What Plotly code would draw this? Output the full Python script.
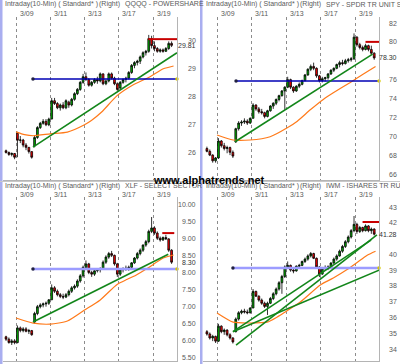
import plotly.graph_objects as go

W, H = 400, 364

# ---------------- time axis ----------------
day_names = ["3/06", "3/09", "3/10", "3/11", "3/12", "3/13", "3/16", "3/17", "3/18", "3/19", "3/20"]
bars_in_day = [4, 6, 6, 6, 6, 6, 6, 6, 6, 6, 1]
labelled_days = ["3/09", "3/11", "3/13", "3/17", "3/19"]
BARS_PER_SESSION = 6

# ---------------- QQQQ ----------------
qqqq_open = [26.08, 26.02, 25.95, 25.98,
             26.7, 26.45, 26.46, 26.28, 26.2, 26.05,
             26.25, 26.55, 26.9, 27.05, 27.12, 27.0,
             27.2, 27.85, 27.75, 27.6, 27.7, 27.6,
             27.8, 27.7, 27.9, 28.1, 28.25, 28.5,
             28.7, 28.6, 28.4, 28.5, 28.6, 28.55,
             28.8, 28.45, 28.55, 28.8, 28.65, 28.45,
             28.3, 28.5, 28.6, 28.65, 28.85, 29.1,
             29.2, 29.25, 29.4, 29.55, 29.6, 30.05,
             29.8, 29.7, 29.6, 29.65, 29.6, 29.7,
             29.88]
qqqq_high = [26.12, 26.05, 26.02, 26.0,
             26.75, 26.6, 26.5, 26.35, 26.2, 26.05,
             26.62, 26.95, 27.1, 27.2, 27.2, 27.25,
             27.95, 27.95, 27.8, 27.75, 27.8, 27.9,
             27.85, 27.95, 28.15, 28.3, 28.55, 28.8,
             28.85, 28.65, 28.55, 28.65, 28.7, 28.85,
             28.82, 28.6, 28.85, 28.85, 28.7, 28.5,
             28.55, 28.65, 28.7, 28.9, 29.15, 29.25,
             29.3, 29.45, 29.6, 29.65, 30.18, 30.15,
             29.95, 29.75, 29.7, 29.7, 29.75, 29.95,
             29.95]
qqqq_low = [25.98, 25.9, 25.88, 25.78,
            25.85, 26.35, 26.2, 26.1, 25.98, 25.8,
            26.2, 26.5, 26.85, 27.0, 26.95, 26.95,
            27.2, 27.7, 27.55, 27.5, 27.55, 27.55,
            27.6, 27.65, 27.85, 28.05, 28.2, 28.45,
            28.55, 28.35, 28.35, 28.45, 28.45, 28.5,
            28.4, 28.4, 28.5, 28.6, 28.4, 28.2,
            28.25, 28.45, 28.5, 28.6, 28.8, 29.0,
            29.1, 29.15, 29.35, 29.45, 29.55, 29.7,
            29.6, 29.55, 29.55, 29.55, 29.58, 29.65,
            29.75]
qqqq_close = [26.02, 25.95, 25.98, 25.85,
              26.45, 26.46, 26.28, 26.2, 26.05, 25.85,
              26.55, 26.9, 27.05, 27.12, 27.0, 27.2,
              27.85, 27.75, 27.6, 27.7, 27.6, 27.85,
              27.7, 27.9, 28.1, 28.25, 28.5, 28.7,
              28.6, 28.4, 28.5, 28.6, 28.55, 28.8,
              28.45, 28.55, 28.8, 28.65, 28.45, 28.25,
              28.5, 28.6, 28.65, 28.85, 29.1, 29.2,
              29.25, 29.4, 29.55, 29.6, 30.05, 29.8,
              29.7, 29.6, 29.65, 29.6, 29.7, 29.88,
              29.81]
qqqq_ma_x = [0, 0.5, 1, 2, 3, 4, 4.4, 5, 5.9, 6.8, 7.8, 8.6, 9.2]
qqqq_ma_y = [26.75, 26.65, 26.61, 26.68, 26.74, 27.0, 27.15, 27.45, 28.03, 28.4, 28.69, 28.98, 29.08]
qqqq_trend_x = [[0.99, 9.4]]
qqqq_trend_y = [[26.21, 29.55]]
qqqq_support = 28.62
qqqq_support_x = [0.99, 9.4]
qqqq_resist = 30.03
qqqq_resist_x = [7.72, 9.45]
qqqq_ticks = [26, 27, 28, 29, 30]
qqqq_last = 29.81

# ---------------- SPY ----------------
spy_open = [68.7, 68.4, 68.0, 67.4,
            67.7, 69.5, 69.0, 68.7, 68.8, 68.3,
            69.4, 70.8, 71.4, 71.5, 71.6, 71.4,
            71.9, 73.3, 72.9, 72.6, 72.5, 72.1,
            72.7, 73.2, 73.5, 73.9, 74.3, 74.8,
            75.2, 76.0, 75.2, 74.8, 75.3, 75.5,
            75.9, 76.5, 77.1, 77.4, 77.2, 76.4,
            75.9, 76.1, 76.2, 76.6, 77.0, 77.2,
            77.6, 77.8, 77.7, 78.0, 78.1, 78.2,
            80.5, 79.7, 79.4, 79.2, 79.6, 79.2,
            78.8]
spy_high = [68.9, 68.6, 68.1, 67.8,
            69.8, 69.6, 69.3, 69.0, 68.9, 68.5,
            70.9, 71.6, 71.7, 71.9, 71.8, 72.0,
            73.5, 73.4, 73.1, 72.9, 72.6, 72.8,
            73.3, 73.6, 74.0, 74.4, 74.9, 75.3,
            76.3, 76.1, 75.3, 75.4, 75.7, 76.0,
            76.6, 77.2, 77.6, 77.8, 77.3, 76.5,
            76.3, 76.3, 76.7, 77.1, 77.3, 77.7,
            78.0, 78.1, 78.2, 78.3, 78.4, 80.9,
            80.6, 79.9, 79.6, 79.8, 79.7, 79.6,
            78.9]
spy_low = [68.3, 67.9, 67.2, 67.2,
           67.6, 68.8, 68.5, 68.2, 68.0, 67.7,
           69.3, 70.6, 71.1, 71.3, 71.2, 71.3,
           71.9, 72.7, 72.4, 72.3, 71.9, 72.0,
           72.6, 72.9, 73.3, 73.7, 74.2, 72.8,
           75.1, 75.0, 74.6, 74.7, 75.1, 75.4,
           75.8, 76.4, 76.9, 77.0, 76.2, 75.7,
           75.7, 75.8, 76.0, 76.5, 76.8, 77.1,
           77.3, 77.5, 77.6, 77.8, 77.9, 78.1,
           79.5, 79.2, 79.0, 79.1, 79.0, 78.6,
           78.1]
spy_close = [68.4, 68.0, 67.4, 67.7,
             69.5, 69.0, 68.7, 68.8, 68.3, 67.9,
             70.8, 71.4, 71.5, 71.6, 71.4, 71.9,
             73.3, 72.9, 72.6, 72.5, 72.1, 72.7,
             73.2, 73.5, 73.9, 74.3, 74.8, 75.2,
             76.0, 75.2, 74.8, 75.3, 75.5, 75.9,
             76.5, 77.1, 77.4, 77.2, 76.4, 75.9,
             76.1, 76.2, 76.6, 77.0, 77.2, 77.6,
             77.8, 77.7, 78.0, 78.1, 78.2, 80.5,
             79.7, 79.4, 79.2, 79.6, 79.2, 78.8,
             78.3]
spy_ma_x = [0, 0.93, 1.91, 3.07, 4.06, 4.64, 5.39, 6.14, 6.72, 7.7, 8.46, 9.16]
spy_ma_y = [70.13, 69.6, 69.6, 69.95, 70.9, 71.6, 72.8, 73.9, 74.6, 75.7, 76.6, 77.4]
spy_trend_x = [[1.04, 8.99]]
spy_trend_y = [[69.42, 78.7]]
spy_support = 75.86
spy_support_x = [1.1, 9.36]
spy_resist = 80.0
spy_resist_x = [8.58, 9.45]
spy_ticks = [66, 68, 70, 72, 74, 76, 80, 82]
spy_last = 78.30

# ---------------- XLF ----------------
xlf_open = [6.12, 6.05, 5.95, 6.0,
            5.95, 6.38, 6.3, 6.35, 6.28, 6.3,
            6.55, 6.8, 7.0, 7.05, 7.08, 7.1,
            7.2, 7.55, 7.45, 7.35, 7.3, 7.28,
            7.35, 7.45, 7.55, 7.6, 7.75, 7.9,
            8.15, 8.25, 8.0, 7.95, 8.05, 8.08,
            8.1, 8.3, 8.45, 8.55, 8.5, 8.25,
            7.95, 8.08, 8.1, 8.12, 8.15, 8.28,
            8.42, 8.55, 8.65, 8.8, 8.9, 9.2,
            9.3, 9.15, 9.0, 8.95, 9.02, 8.98,
            8.65]
xlf_high = [6.15, 6.1, 6.05, 6.05,
            6.45, 6.42, 6.4, 6.4, 6.35, 6.32,
            6.85, 7.05, 7.1, 7.12, 7.15, 7.22,
            7.65, 7.6, 7.5, 7.4, 7.38, 7.4,
            7.5, 7.6, 7.65, 7.8, 7.95, 8.2,
            8.35, 8.28, 8.05, 8.1, 8.12, 8.15,
            8.35, 8.5, 8.6, 8.63, 8.52, 8.28,
            8.12, 8.15, 8.2, 8.2, 8.3, 8.45,
            8.6, 8.7, 8.82, 8.95, 9.25, 9.62,
            9.35, 9.2, 9.05, 9.05, 9.1, 9.0,
            8.68]
xlf_low = [6.0, 5.92, 5.88, 5.9,
           5.93, 6.25, 6.25, 6.25, 6.2, 6.15,
           6.5, 6.75, 6.95, 6.98, 7.0, 7.05,
           7.2, 7.4, 7.3, 7.25, 7.22, 7.25,
           7.3, 7.4, 7.5, 7.55, 7.7, 7.85,
           8.1, 7.95, 7.87, 7.9, 8.0, 8.0,
           8.08, 8.25, 8.4, 8.45, 8.2, 7.87,
           7.9, 8.0, 8.05, 8.05, 8.1, 8.25,
           8.38, 8.5, 8.6, 8.75, 8.85, 9.15,
           9.1, 8.95, 8.9, 8.92, 8.95, 8.6,
           8.25]
xlf_close = [6.05, 5.95, 6.0, 5.95,
             6.38, 6.3, 6.35, 6.28, 6.3, 6.18,
             6.8, 7.0, 7.05, 7.08, 7.1, 7.2,
             7.55, 7.45, 7.35, 7.3, 7.28, 7.35,
             7.45, 7.55, 7.6, 7.75, 7.9, 8.15,
             8.25, 8.0, 7.95, 8.05, 8.08, 8.1,
             8.3, 8.45, 8.55, 8.5, 8.25, 7.95,
             8.08, 8.1, 8.12, 8.15, 8.28, 8.42,
             8.55, 8.65, 8.8, 8.9, 9.2, 9.3,
             9.15, 9.0, 8.95, 9.02, 8.98, 8.65,
             8.3]
xlf_ma_x = [0, 1, 2, 3, 4, 4.9, 5.9, 6.5, 7.0, 7.7, 8.6, 9.2]
xlf_ma_y = [6.67, 6.52, 6.49, 6.58, 6.9, 7.19, 7.65, 7.8, 7.92, 8.13, 8.42, 8.51]
xlf_trend_x = [[0.99, 8.89]]
xlf_trend_y = [[6.55, 8.53]]
xlf_support = 8.10
xlf_support_x = [0.99, 9.4]
xlf_resist = 9.15
xlf_resist_x = [8.54, 9.24]
xlf_ticks = [5.5, 6.0, 6.5, 7.0, 7.5, 8.0, 8.5, 9.0, 9.5, 10.0]
xlf_last = 8.30

# ---------------- IWM ----------------
iwm_open = [35.1, 34.95, 34.7, 34.8,
            34.5, 35.45, 35.1, 35.2, 34.9, 34.7,
            35.1, 35.9, 36.3, 36.4, 36.35, 36.3,
            36.6, 37.65, 37.35, 37.1, 36.9, 36.7,
            36.9, 37.2, 37.5, 37.8, 38.2, 38.6,
            39.2, 39.3, 39.0, 38.95, 39.25, 39.3,
            39.55, 39.7, 39.9, 40.05, 39.75, 39.2,
            38.75, 39.1, 39.15, 39.2, 39.45, 39.7,
            39.9, 40.2, 40.5, 40.8, 41.1, 41.5,
            41.9, 41.45, 41.7, 41.5, 41.8, 41.5,
            41.6]
iwm_high = [35.2, 35.05, 34.9, 34.85,
            35.6, 35.5, 35.3, 35.25, 35.0, 34.75,
            36.0, 36.4, 36.5, 36.55, 36.5, 36.65,
            37.8, 37.7, 37.4, 37.2, 37.0, 37.0,
            37.3, 37.6, 37.9, 38.3, 38.7, 39.3,
            39.55, 39.35, 39.1, 39.3, 39.4, 39.6,
            39.8, 40.0, 40.15, 40.1, 39.8, 39.25,
            39.2, 39.3, 39.3, 39.5, 39.8, 40.0,
            40.3, 40.6, 40.9, 41.2, 41.6, 42.43,
            42.0, 41.8, 41.75, 41.9, 41.85, 41.7,
            41.65]
iwm_low = [34.85, 34.6, 34.5, 34.38,
           34.45, 35.0, 34.9, 34.8, 34.6, 34.35,
           35.05, 35.8, 36.2, 36.25, 36.2, 36.25,
           36.6, 37.3, 37.0, 36.8, 36.6, 36.16,
           36.85, 37.1, 37.4, 37.7, 37.5, 38.5,
           39.1, 38.9, 38.8, 38.9, 39.15, 39.25,
           39.45, 39.6, 39.8, 39.7, 39.1, 38.56,
           38.7, 38.95, 39.0, 39.1, 39.4, 39.6,
           39.85, 40.1, 40.4, 40.7, 41.0, 41.4,
           41.3, 41.35, 41.4, 41.45, 41.4, 41.3,
           41.2]
iwm_close = [34.95, 34.7, 34.8, 34.5,
             35.45, 35.1, 35.2, 34.9, 34.7, 34.45,
             35.9, 36.3, 36.4, 36.35, 36.3, 36.6,
             37.65, 37.35, 37.1, 36.9, 36.7, 36.9,
             37.2, 37.5, 37.8, 38.2, 38.6, 39.2,
             39.3, 39.0, 38.95, 39.25, 39.3, 39.55,
             39.7, 39.9, 40.05, 39.75, 39.2, 38.75,
             39.1, 39.15, 39.2, 39.45, 39.7, 39.9,
             40.2, 40.5, 40.8, 41.1, 41.5, 41.9,
             41.45, 41.7, 41.5, 41.8, 41.5, 41.6,
             41.28]
iwm_ma_x = [0, 0.93, 1.91, 2.9, 3.48, 3.94, 4.81, 5.97, 6.72, 7.54, 8.29, 8.7, 9.16]
iwm_ma_y = [36.28, 35.7, 35.65, 35.7, 36.03, 36.35, 36.98, 38.06, 38.5, 39.05, 39.64, 39.96, 40.2]
iwm_trend_x = [[1.1, 9.24], [0.92, 8.9], [0.92, 9.36]]
iwm_trend_y = [[34.25, 41.23], [35.1, 40.9], [35.1, 39.0]]
iwm_support = 39.14
iwm_support_x = [0.92, 9.36]
iwm_resist = 42.05
iwm_resist_x = [8.41, 9.45]
iwm_ticks = [34, 35, 36, 37, 38, 39, 40, 42, 43]
iwm_last = 41.28

# ---------------- build bar positions (session units, 3/09 = 0) ----------------
bar_x = []
for d, n in enumerate(bars_in_day):
    session = d - 1
    start = BARS_PER_SESSION - n if d == 0 else 0
    for k in range(start, start + n):
        bar_x.append(session + (k + 0.5) / BARS_PER_SESSION)
grid_sessions = [day_names.index(dn) - 1 for dn in labelled_days]

TEXT = "#5a5a5a"
FONT = "Liberation Sans, Arial, sans-serif"

panels = [
    dict(sym="QQQQ - POWERSHARE", o=qqqq_open, h=qqqq_high, l=qqqq_low, c=qqqq_close,
         ma=(qqqq_ma_x, qqqq_ma_y), tr=(qqqq_trend_x, qqqq_trend_y),
         sup=(qqqq_support, qqqq_support_x), res=(qqqq_resist, qqqq_resist_x),
         ticks=qqqq_ticks, fmt="{:.0f}", last=qqqq_last,
         px=(3, 177), py=(17, 180), xr=(-0.76, 9.40), yr=(25.044, 30.814),
         top=0, left=0, supcol="#0000b4", supw=1.5),
    dict(sym="SPY - SPDR TR UNIT SE", o=spy_open, h=spy_high, l=spy_low, c=spy_close,
         ma=(spy_ma_x, spy_ma_y), tr=(spy_trend_x, spy_trend_y),
         sup=(spy_support, spy_support_x), res=(spy_resist, spy_resist_x),
         ticks=spy_ticks, fmt="{:.0f}", last=spy_last,
         px=(203, 379), py=(17, 180), xr=(-0.81, 9.36), yr=(65.364, 82.636),
         top=0, left=201, supcol="#0000b4", supw=1.5),
    dict(sym="XLF - SELECT SECTOR", o=xlf_open, h=xlf_high, l=xlf_low, c=xlf_close,
         ma=(xlf_ma_x, xlf_ma_y), tr=(xlf_trend_x, xlf_trend_y),
         sup=(xlf_support, xlf_support_x), res=(xlf_resist, xlf_resist_x),
         ticks=xlf_ticks, fmt="{:.2f}", last=xlf_last,
         px=(3, 177), py=(197, 361), xr=(-0.76, 9.40), yr=(5.412, 10.2046),
         top=181, left=0, supcol="#9c9cff", supw=2.5),
    dict(sym="IWM - ISHARES TR RUS", o=iwm_open, h=iwm_high, l=iwm_low, c=iwm_close,
         ma=(iwm_ma_x, iwm_ma_y), tr=(iwm_trend_x, iwm_trend_y),
         sup=(iwm_support, iwm_support_x), res=(iwm_resist, iwm_resist_x),
         ticks=iwm_ticks, fmt="{:.0f}", last=iwm_last,
         px=(203, 379), py=(197, 361), xr=(-0.81, 9.36), yr=(33.241, 43.634),
         top=181, left=201, supcol="#9c9cff", supw=2.5),
]

fig = go.Figure()
annotations = []
shapes = []
layout_axes = {}

for i, p in enumerate(panels, start=1):
    xa = "x" if i == 1 else f"x{i}"
    ya = "y" if i == 1 else f"y{i}"
    xkey = "xaxis" if i == 1 else f"xaxis{i}"
    ykey = "yaxis" if i == 1 else f"yaxis{i}"

    # moving average
    fig.add_trace(go.Scatter(x=p["ma"][0], y=p["ma"][1], mode="lines", xaxis=xa, yaxis=ya,
                             line=dict(color="#ff7a1a", width=1.2, shape="spline", smoothing=0.6),
                             showlegend=False, hoverinfo="skip"))
    # support line with end handles
    sup_v, sup_x = p["sup"]
    fig.add_trace(go.Scatter(x=sup_x, y=[sup_v, sup_v], mode="lines+markers", xaxis=xa, yaxis=ya,
                             line=dict(color=p["supcol"], width=p["supw"]),
                             marker=dict(size=3.5, color=["#202040", "#d8c800"],
                                         line=dict(width=0)),
                             cliponaxis=False, showlegend=False, hoverinfo="skip"))
    # trend lines
    for tx, ty in zip(*p["tr"]):
        fig.add_trace(go.Scatter(x=tx, y=ty, mode="lines", xaxis=xa, yaxis=ya,
                                 line=dict(color="#12861a", width=1.6),
                                 showlegend=False, hoverinfo="skip"))
    # candles
    fig.add_trace(go.Candlestick(x=bar_x, open=p["o"], high=p["h"], low=p["l"], close=p["c"],
                                 xaxis=xa, yaxis=ya, whiskerwidth=0,
                                 increasing=dict(fillcolor="#00b400", line=dict(color="#000000", width=0.8)),
                                 decreasing=dict(fillcolor="#ff0000", line=dict(color="#000000", width=0.8)),
                                 showlegend=False, hoverinfo="skip"))
    # resistance line
    res_v, res_x = p["res"]
    fig.add_trace(go.Scatter(x=res_x, y=[res_v, res_v], mode="lines", xaxis=xa, yaxis=ya,
                             line=dict(color="#c80000", width=2),
                             showlegend=False, hoverinfo="skip"))

    layout_axes[xkey] = dict(domain=[p["px"][0] / W, p["px"][1] / W], range=list(p["xr"]),
                             anchor=ya, tickvals=grid_sessions, showticklabels=False, ticks="",
                             showgrid=True, gridcolor="#8c8c8c", griddash="3px,3px", gridwidth=1,
                             zeroline=False, showline=True, linecolor="#b4b4b4", linewidth=1,
                             rangeslider=dict(visible=False), fixedrange=True)
    layout_axes[ykey] = dict(domain=[1 - p["py"][1] / H, 1 - p["py"][0] / H], range=list(p["yr"]),
                             anchor=xa, side="right", showgrid=False, showticklabels=False, ticks="",
                             zeroline=False, showline=True, linecolor="#b4b4b4", linewidth=1,
                             fixedrange=True)

    # title row
    top = p["top"]
    left = p["left"]
    for txt, xx in [("Intraday(10-Min) ( Standard* )", 3), ("(Right)", 97), (p["sym"], 123)]:
        annotations.append(dict(text=txt, xref="paper", yref="paper", x=(left + xx) / W,
                                y=1 - (top + 4.5) / H, xanchor="left", yanchor="middle",
                                showarrow=False, font=dict(family=FONT, size=7, color=TEXT)))
    # date labels
    for dn, gs in zip(labelled_days, grid_sessions):
        annotations.append(dict(text=dn, xref=xa, yref="paper", x=gs, xshift=1.5,
                                y=1 - (top + 13.5) / H, xanchor="left", yanchor="middle",
                                showarrow=False, font=dict(family=FONT, size=7, color=TEXT)))
    # price labels on the right
    right_edge = (left + 198) / W
    for t in p["ticks"]:
        annotations.append(dict(text=p["fmt"].format(t), xref="paper", yref=ya, x=right_edge, y=t,
                                xanchor="right", yanchor="middle", showarrow=False,
                                font=dict(family=FONT, size=7, color=TEXT)))
    annotations.append(dict(text=("{:.2f}").format(p["last"]), xref="paper", yref=ya, x=right_edge,
                            y=p["last"], xanchor="right", yanchor="middle", showarrow=False,
                            font=dict(family=FONT, size=7, color="#333333")))

# panel frames / separators
shapes.append(dict(type="rect", xref="paper", yref="paper", x0=0, x1=2.5 / W, y0=0, y1=1,
                   fillcolor="#a9aef0", line=dict(width=0), layer="below"))
shapes.append(dict(type="rect", xref="paper", yref="paper", x0=200 / W, x1=202.5 / W, y0=0, y1=1,
                   fillcolor="#a9aef0", line=dict(width=0), layer="below"))
shapes.append(dict(type="line", xref="paper", yref="paper", x0=0, x1=1, y0=1 - 181.5 / H, y1=1 - 181.5 / H,
                   line=dict(color="#c8c8c8", width=1)))

annotations.append(dict(text="<b>www.alphatrends.net</b>", xref="paper", yref="paper",
                        x=209 / W, y=1 - 180 / H, xanchor="center", yanchor="middle", showarrow=False,
                        font=dict(family="Liberation Sans, Arial, sans-serif", size=11, color="#000000")))

fig.update_layout(width=W, height=H, margin=dict(l=0, r=0, t=0, b=0),
                  paper_bgcolor="#ffffff", plot_bgcolor="#ffffff", boxgap=0.12,
                  showlegend=False, annotations=annotations, shapes=shapes, **layout_axes)

fig.write_html("out.html", config={"displayModeBar": False},
               post_script="document.body.style.margin='0';document.body.style.overflow='hidden';")
